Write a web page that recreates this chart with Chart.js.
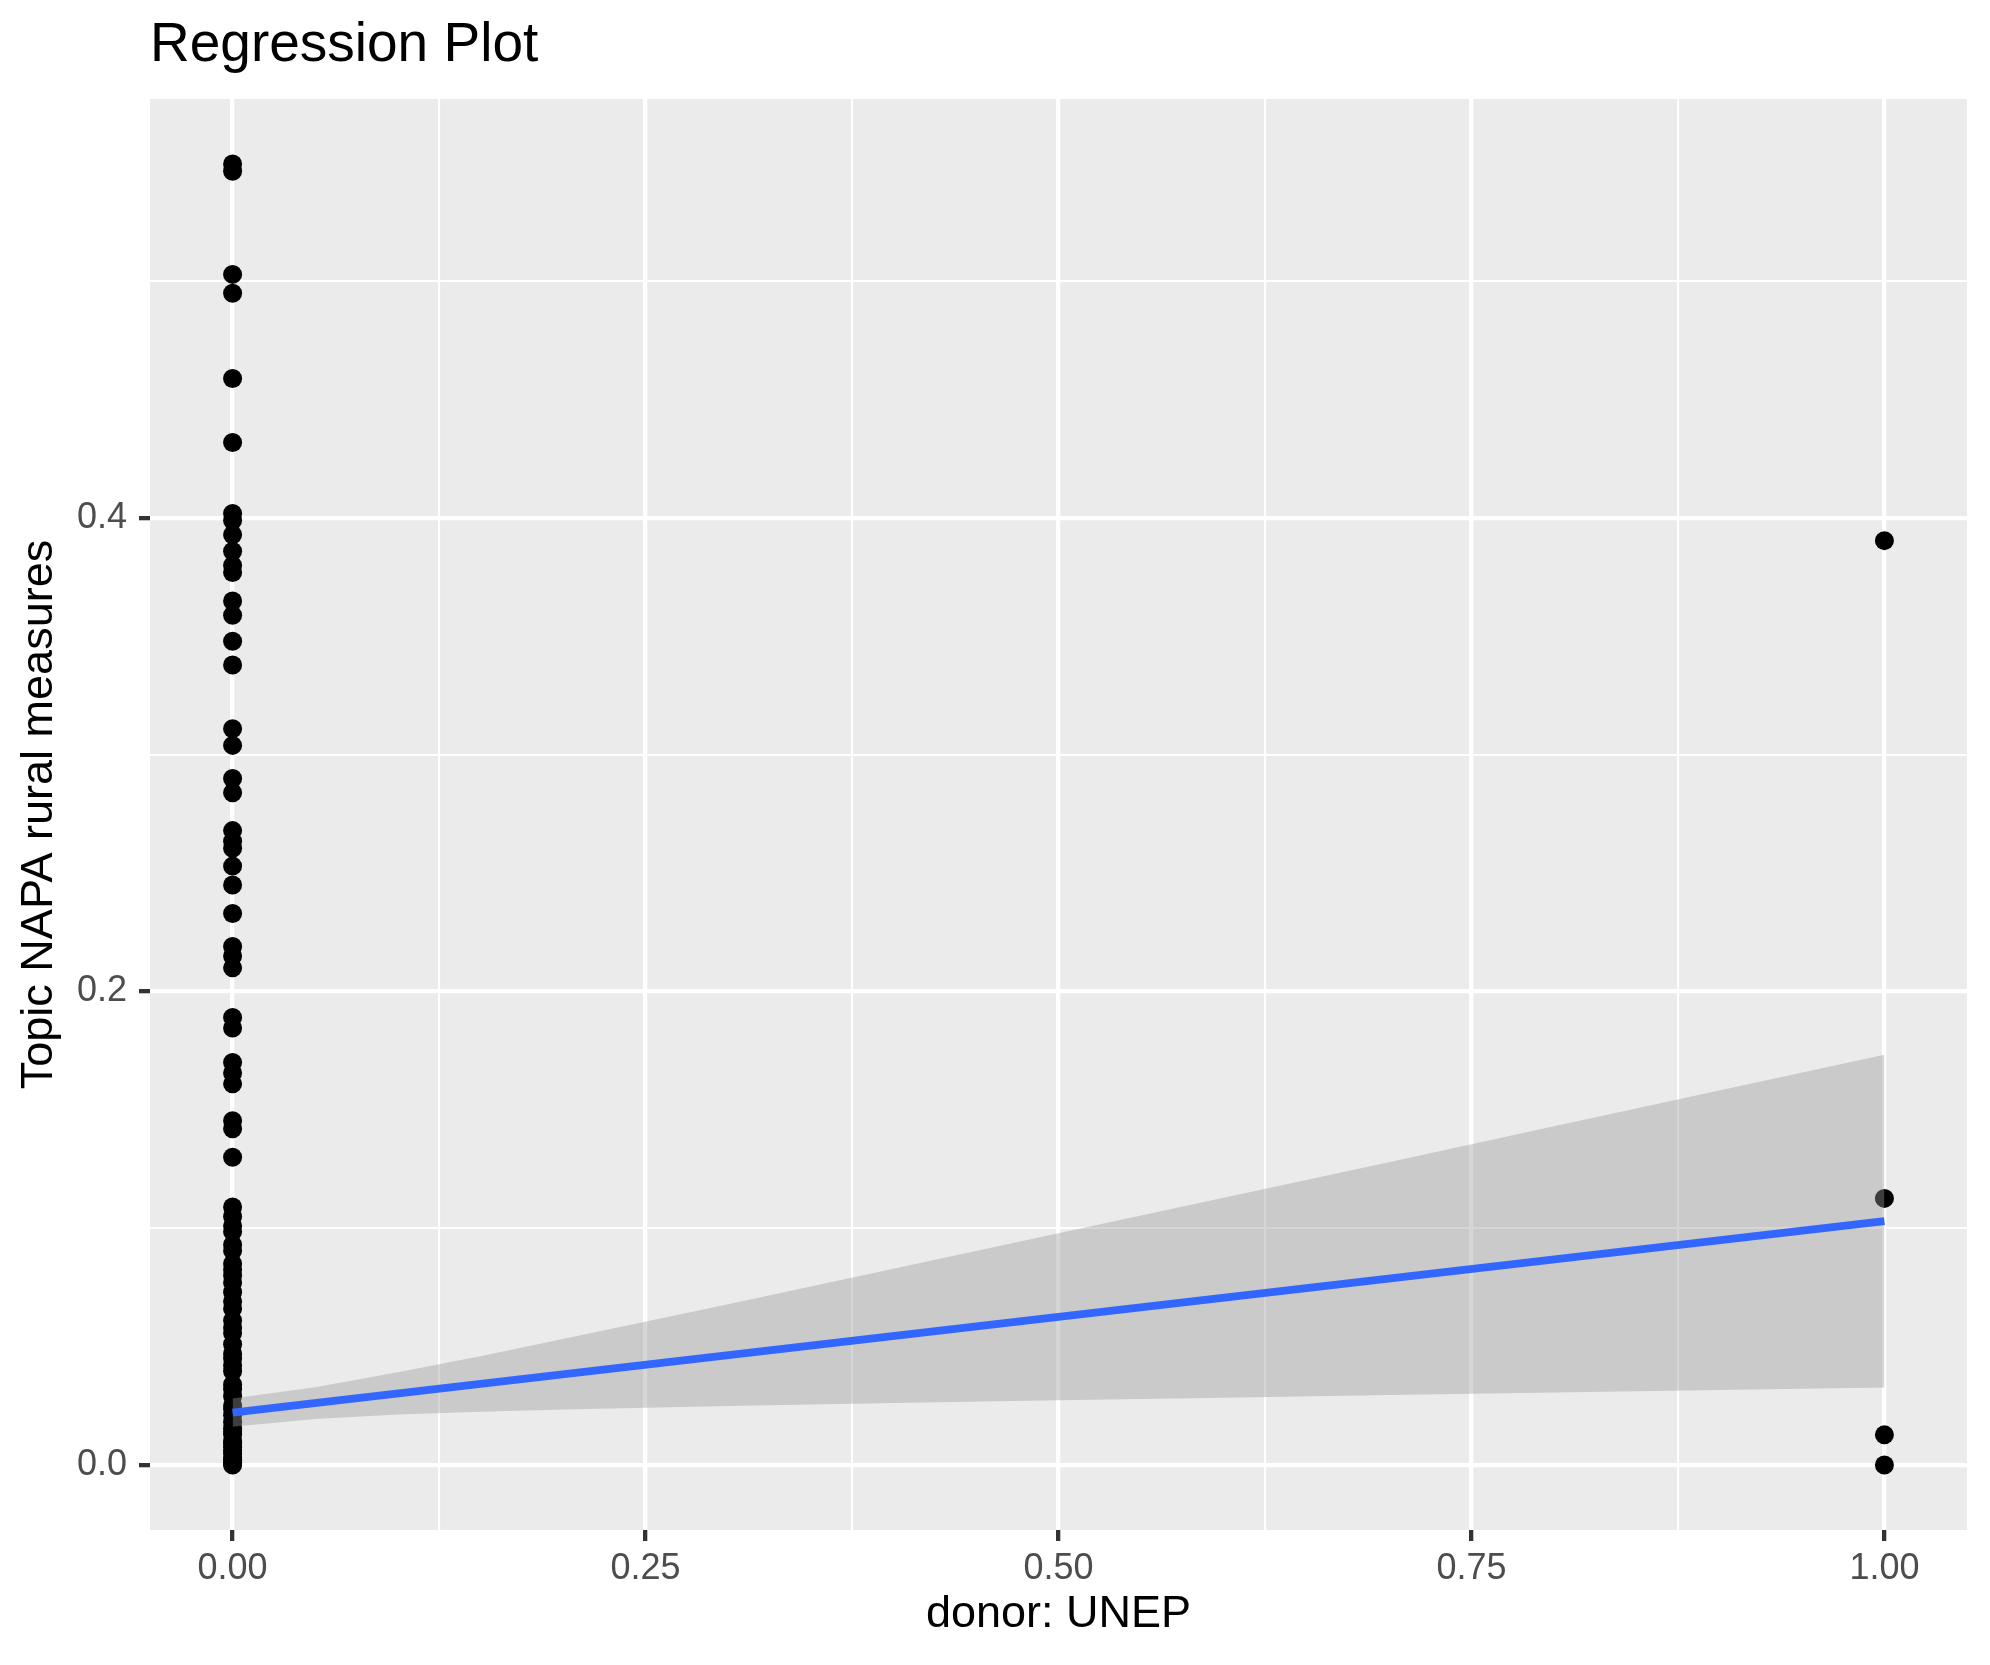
<!DOCTYPE html>
<html>
<head>
<meta charset="utf-8">
<title>Regression Plot</title>
<script src="https://cdn.jsdelivr.net/npm/chart.js@4/dist/chart.umd.min.js"></script>
<style>
  html, body { margin: 0; padding: 0; background: #ffffff; }
  #wrap { width: 1990px; height: 1665px; }
</style>
</head>
<body>
<div id="wrap"><canvas id="regChart" width="1990" height="1665"></canvas></div>
<script>
// Observations with donor: UNEP = 0
const donorZeroY = [
  0.5496, 0.5466, 0.503, 0.495, 0.459, 0.432, 0.402, 0.399, 0.393, 0.386,
  0.380, 0.377, 0.365, 0.359, 0.348, 0.338, 0.311, 0.304, 0.290, 0.284,
  0.268, 0.2635, 0.2605, 0.253, 0.245, 0.233, 0.219, 0.215, 0.210, 0.189,
  0.1846, 0.170, 0.1656, 0.161, 0.1454, 0.142, 0.130, 0.109, 0.105, 0.101,
  0.0985, 0.093, 0.0905, 0.085, 0.0825, 0.080, 0.077, 0.073, 0.069, 0.066,
  0.061, 0.058, 0.0557, 0.051, 0.047, 0.045, 0.042, 0.0396, 0.034, 0.032,
  0.029, 0.025, 0.0236, 0.021, 0.018, 0.0155, 0.014, 0.0128, 0.010, 0.009,
  0.0075, 0.006, 0.0048, 0.003, 0.002, 0.001, 0.0005, 0
];

// Observations with donor: UNEP = 1
const donorOneY = [0.3905, 0.1126, 0.0127, 0];

// Fitted line (lm) end points
const fitX = [0, 1];
const fitY = [0.0221, 0.103];

// Confidence band
const bandX = [0, 0.05, 0.1, 0.15, 0.2, 0.3, 0.4, 0.5, 0.6, 0.7, 0.8, 0.9, 1];
const bandUpper = [0.0281, 0.0328, 0.0391, 0.0459, 0.0532, 0.0679, 0.0829, 0.0979, 0.1129, 0.1279, 0.1431, 0.1582, 0.1733];
const bandLower = [0.0161, 0.0194, 0.0213, 0.0225, 0.0234, 0.0249, 0.0262, 0.0273, 0.0284, 0.0295, 0.0306, 0.0316, 0.0327];

// Axis ticks (major get labels, minor only grid lines)
const xTicks = [0, 0.125, 0.25, 0.375, 0.5, 0.625, 0.75, 0.875, 1];
const yTicks = [0, 0.1, 0.2, 0.3, 0.4, 0.5];

const toPoints = (xs, ys) => xs.map((x, i) => ({ x: x, y: ys[i] }));

Chart.defaults.font.family = '"Liberation Sans", Arial, Helvetica, sans-serif';

// Grey panel background behind grid
const panelBackground = {
  id: 'panelBackground',
  beforeDraw(chart) {
    const { ctx, chartArea } = chart;
    ctx.save();
    ctx.fillStyle = '#EBEBEB';
    ctx.fillRect(chartArea.left, chartArea.top, chartArea.right - chartArea.left, chartArea.bottom - chartArea.top);
    ctx.restore();
  }
};

// ggplot style title, left aligned with the panel
const plotTitle = {
  id: 'plotTitle',
  afterDraw(chart) {
    const { ctx, chartArea } = chart;
    ctx.save();
    ctx.font = '55px "Liberation Sans", Arial, sans-serif';
    ctx.fillStyle = '#000000';
    ctx.textAlign = 'left';
    ctx.textBaseline = 'alphabetic';
    ctx.fillText('Regression Plot', chartArea.left, 61);
    ctx.restore();
  }
};

const isMajorX = v => Math.abs(v * 4 - Math.round(v * 4)) < 1e-6;
const isMajorY = v => Math.abs(v * 5 - Math.round(v * 5)) < 1e-6;

new Chart(document.getElementById('regChart'), {
  type: 'scatter',
  data: {
    datasets: [
      {
        label: 'points',
        data: donorZeroY.map(y => ({ x: 0, y: y })).concat(donorOneY.map(y => ({ x: 1, y: y }))),
        pointRadius: 9.5,
        pointBackgroundColor: '#000000',
        pointBorderWidth: 0,
        showLine: false,
        order: 4
      },
      {
        label: 'lower',
        data: toPoints(bandX, bandLower),
        showLine: true,
        borderWidth: 0,
        borderColor: 'rgba(0,0,0,0)',
        pointRadius: 0,
        fill: false,
        order: 3
      },
      {
        label: 'upper',
        data: toPoints(bandX, bandUpper),
        showLine: true,
        borderWidth: 0,
        borderColor: 'rgba(0,0,0,0)',
        pointRadius: 0,
        fill: { target: 1 },
        backgroundColor: 'rgba(153,153,153,0.4)',
        order: 2
      },
      {
        label: 'fit',
        data: toPoints(fitX, fitY),
        showLine: true,
        borderColor: '#3366FF',
        borderWidth: 8,
        pointRadius: 0,
        fill: false,
        order: 1
      }
    ]
  },
  options: {
    responsive: false,
    animation: false,
    devicePixelRatio: 1,
    layout: { padding: { top: 99, right: 23, left: 0, bottom: 0 } },
    plugins: {
      legend: { display: false },
      tooltip: { enabled: false },
      title: { display: false }
    },
    scales: {
      x: {
        type: 'linear',
        min: -0.05,
        max: 1.05,
        afterFit: scale => { scale.height = 135; },
        afterBuildTicks: scale => { scale.ticks = xTicks.map(v => ({ value: v })); },
        border: { display: false },
        grid: {
          color: '#FFFFFF',
          lineWidth: c => (c.tick && isMajorX(c.tick.value) ? 4.3 : 2.1),
          drawTicks: true,
          tickLength: 11,
          tickWidth: 4.3,
          tickColor: c => (c.tick && isMajorX(c.tick.value) ? '#333333' : 'rgba(0,0,0,0)')
        },
        ticks: {
          autoSkip: false,
          maxRotation: 0,
          padding: 6,
          color: '#4D4D4D',
          font: { size: 36 },
          callback: v => (isMajorX(v) ? v.toFixed(2) : '')
        },
        title: {
          display: true,
          text: 'donor: UNEP',
          color: '#000000',
          font: { size: 45 },
          padding: { top: 0, bottom: 23 }
        }
      },
      y: {
        type: 'linear',
        min: -0.0275,
        max: 0.5771,
        afterFit: scale => { scale.width = 150; },
        afterBuildTicks: scale => { scale.ticks = yTicks.map(v => ({ value: v })); },
        border: { display: false },
        grid: {
          color: '#FFFFFF',
          lineWidth: c => (c.tick && isMajorY(c.tick.value) ? 4.3 : 2.1),
          drawTicks: true,
          tickLength: 11,
          tickWidth: 4.3,
          tickColor: c => (c.tick && isMajorY(c.tick.value) ? '#333333' : 'rgba(0,0,0,0)')
        },
        ticks: {
          autoSkip: false,
          padding: 12,
          color: '#4D4D4D',
          font: { size: 36 },
          callback: v => (isMajorY(v) ? v.toFixed(1) : '')
        },
        title: {
          display: true,
          text: 'Topic NAPA rural measures',
          color: '#000000',
          font: { size: 45 },
          padding: { top: 13, bottom: 0 }
        }
      }
    }
  },
  plugins: [panelBackground, plotTitle]
});
</script>
</body>
</html>
